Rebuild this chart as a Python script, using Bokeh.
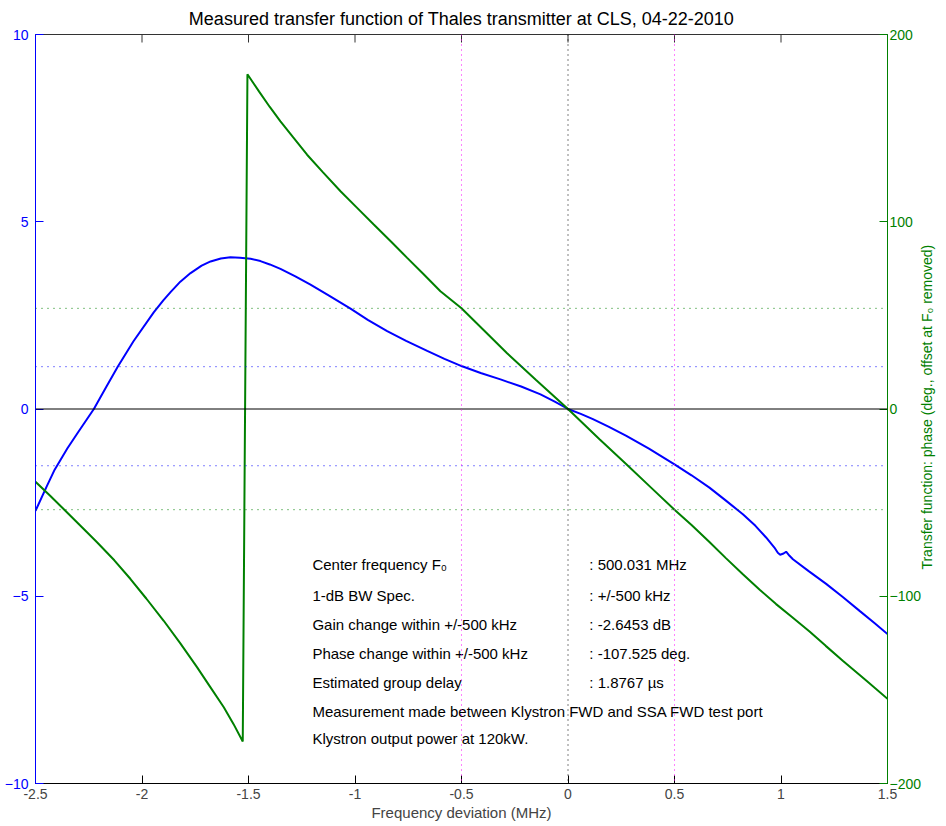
import math
from bokeh.plotting import figure
from bokeh.models import Range1d, LinearAxis, FixedTicker, Span
from bokeh.embed import file_html
from bokeh.resources import INLINE
from bokeh.core.properties import value

# ---------------- data ----------------
gain_freq = [-2.5, -2.45, -2.41, -2.35, -2.3, -2.226, -2.17, -2.114, -2.04, -1.945,
             -1.9, -1.866, -1.82, -1.772, -1.72, -1.678, -1.63, -1.585, -1.54, -1.49,
             -1.444, -1.4, -1.35, -1.28, -1.209, -1.12, -1.021, -0.94, -0.849, -0.76,
             -0.661, -0.58, -0.497, -0.41, -0.317, -0.22, -0.129, -0.06, 0.0, 0.06,
             0.117, 0.19, 0.274, 0.38, 0.5, 0.58, 0.664, 0.74, 0.821, 0.88,
             0.93, 0.969, 0.985, 0.996, 1.012, 1.024, 1.04, 1.056, 1.13, 1.212,
             1.29, 1.369, 1.44, 1.5]
gain_db = [-2.72, -2.1, -1.62, -1.05, -0.62, 0.0, 0.57, 1.13, 1.81, 2.58,
           2.9, 3.12, 3.40, 3.63, 3.83, 3.94, 4.02, 4.05, 4.04, 4.01,
           3.95, 3.86, 3.74, 3.54, 3.32, 3.02, 2.68, 2.38, 2.08, 1.82,
           1.55, 1.34, 1.14, 0.96, 0.79, 0.60, 0.39, 0.19, 0.0, -0.13,
           -0.27, -0.47, -0.72, -1.06, -1.48, -1.77, -2.10, -2.44, -2.81, -3.12,
           -3.43, -3.70, -3.84, -3.89, -3.86, -3.81, -3.92, -4.01, -4.33, -4.67,
           -5.02, -5.39, -5.72, -6.01]

phase_freq = [-2.5, -2.43, -2.367, -2.29, -2.21, -2.13, -2.054, -1.98, -1.898, -1.82,
              -1.741, -1.68, -1.616, -1.57, -1.527,
              -1.505, -1.45, -1.40, -1.35, -1.29, -1.225, -1.15, -1.068, -0.99, -0.912,
              -0.83, -0.755, -0.68, -0.599, -0.5, -0.40, -0.286, -0.15, 0.0, 0.148,
              0.274, 0.39, 0.5, 0.58, 0.664, 0.74, 0.821, 0.90, 0.977, 1.05,
              1.134, 1.21, 1.29, 1.40, 1.5]
phase_deg = [-38.9, -46.5, -53.5, -62.2, -71.3, -80.8, -90.8, -101.2, -113.1, -125.2,
             -138.0, -148.4, -159.3, -168.3, -177.6,
             178.8, 169.5, 161.3, 153.6, 145.0, 135.8, 126.4, 116.3, 107.4, 98.5,
             89.3, 80.7, 72.2, 62.9, 53.76, 42.6, 29.8, 15.5, 0.0, -16.2,
             -29.5, -42.0, -53.8, -62.0, -71.0, -79.5, -88.2, -96.5, -104.2, -111.0,
             -118.8, -126.5, -134.4, -145.0, -154.8]

band_edges = [-0.5, 0.5]
gain_at_band_edges = [1.13, -1.515]
phase_at_band_edges = [53.76, -53.765]

x_ticks = [-2.5, -2.0, -1.5, -1.0, -0.5, 0.0, 0.5, 1.0, 1.5]
x_tick_labels = ["-2.5", "-2", "-1.5", "-1", "-0.5", "0", "0.5", "1", "1.5"]
left_ticks = [-10, -5, 0, 5, 10]
right_ticks = [-200, -100, 0, 100, 200]

info_labels = ["Center frequency F\u2080", "1-dB BW Spec.",
               "Gain change within +/-500 kHz", "Phase change within +/-500 kHz",
               "Estimated group delay",
               "Measurement made between Klystron FWD and SSA FWD test port",
               "Klystron output power at 120kW."]
info_values = [": 500.031 MHz", ": +/-500 kHz", ": -2.6453 dB", ": -107.525 deg.",
               ": 1.8767 \u00b5s"]

title_text = "Measured transfer function of Thales transmitter at CLS, 04-22-2010"
x_label = "Frequency deviation (MHz)"
right_label = "Transfer function: phase (deg., offset at F\u2080 removed)"

# ---------------- layout / styles ----------------
FONT = "Liberation Sans"
BLUE = "#0000ff"
GREEN = "#008000"
info_x_left = -1.2
info_x_right = 0.1
info_y = [-4.16, -4.99, -5.76, -6.525, -7.30, -8.07, -8.80]
# the right label is anchored at the bottom end of the axis ("start"); pad its
# start so that the visible text ends up centred along the axis
right_label_pad = "\u00a0" * 55

p = figure(width=946, height=826, x_range=Range1d(-2.5, 1.5), y_range=Range1d(-10, 10),
           output_backend="svg", toolbar_location=None,
           min_border_left=35, min_border_right=59, min_border_top=33, min_border_bottom=43)
p.extra_y_ranges = {"phase": Range1d(-200, 200)}
p.grid.visible = False
p.outline_line_color = "#333333"
p.outline_line_width = 1
p.background_fill_color = "white"
p.border_fill_color = "white"

# title
p.title.text = title_text
p.title.align = "center"
p.title.text_font = FONT
p.title.text_font_size = "18px"
p.title.text_font_style = "normal"
p.title.text_color = "black"
p.title.standoff = 12

# bottom axis
xa = p.xaxis[0]
xa.ticker = FixedTicker(ticks=x_ticks)
xa.major_label_overrides = {t: s for t, s in zip(x_ticks, x_tick_labels)}
xa.axis_label = x_label
xa.axis_label_text_font = FONT
xa.axis_label_text_font_size = "15px"
xa.axis_label_text_font_style = "normal"
xa.axis_label_standoff = 2
xa.major_label_text_font = FONT
xa.major_label_text_font_size = "14px"
xa.major_label_standoff = 5
xa.major_tick_in = 8
xa.major_tick_out = 0
xa.minor_tick_line_color = None
xa.axis_line_color = "black"
xa.major_tick_line_color = "black"

# left axis
ya = p.yaxis[0]
ya.ticker = FixedTicker(ticks=left_ticks)
ya.major_label_text_font = FONT
ya.major_label_text_font_size = "14px"
ya.major_label_text_color = BLUE
ya.major_label_standoff = 7
ya.axis_line_color = BLUE
ya.major_tick_line_color = BLUE
ya.major_tick_in = 8
ya.major_tick_out = 0
ya.minor_tick_line_color = None

# right axis
ra = LinearAxis(y_range_name="phase", ticker=FixedTicker(ticks=right_ticks))
ra.major_label_text_font = FONT
ra.major_label_text_font_size = "14px"
ra.major_label_text_color = GREEN
ra.major_label_standoff = 2
ra.axis_line_color = GREEN
ra.major_tick_line_color = GREEN
ra.major_tick_in = 8
ra.major_tick_out = 0
ra.minor_tick_line_color = None
ra.axis_label = right_label_pad + right_label
ra.axis_label_text_font = FONT
ra.axis_label_text_font_size = "14px"
ra.axis_label_text_font_style = "normal"
ra.axis_label_text_color = GREEN
ra.axis_label_standoff = 3
ra.axis_label_orientation = math.pi / 2
ra.axis_label_align = "start"
p.add_layout(ra, "right")

# reference lines
p.add_layout(Span(location=0, dimension="width", line_color="black", line_width=1))
for g in gain_at_band_edges:
    p.add_layout(Span(location=g, dimension="width", line_color=BLUE, line_width=1,
                      line_dash="1 5"))
for ph in phase_at_band_edges:
    p.add_layout(Span(location=ph, dimension="width", line_color=GREEN, line_width=1,
                      line_dash="1 5", y_range_name="phase"))
for e in band_edges:
    p.add_layout(Span(location=e, dimension="height", line_color="#ff00ff", line_width=1,
                      line_dash="1 4"))
p.add_layout(Span(location=0, dimension="height", line_color="black", line_width=1,
                  line_dash="1 4"))

# inward tick marks on the top edge of the box (half of each dash is clipped)
p.scatter(x=x_ticks, y=[10] * len(x_ticks), marker="dash", size=16, angle=math.pi / 2,
          line_color="#333333", line_width=1)

# curves
p.line(gain_freq, gain_db, line_color=BLUE, line_width=2)
p.line(phase_freq, phase_deg, line_color=GREEN, line_width=2, y_range_name="phase")

# info text
p.text(x=[info_x_left] * len(info_labels), y=info_y, text=info_labels,
       text_font=value(FONT), text_font_size="15px", text_baseline="middle",
       text_align="left", text_color="black")
p.text(x=[info_x_right] * len(info_values), y=info_y[:len(info_values)], text=info_values,
       text_font=value(FONT), text_font_size="15px", text_baseline="middle",
       text_align="left", text_color="black")

open("out.html", "w").write(file_html(p, INLINE))
